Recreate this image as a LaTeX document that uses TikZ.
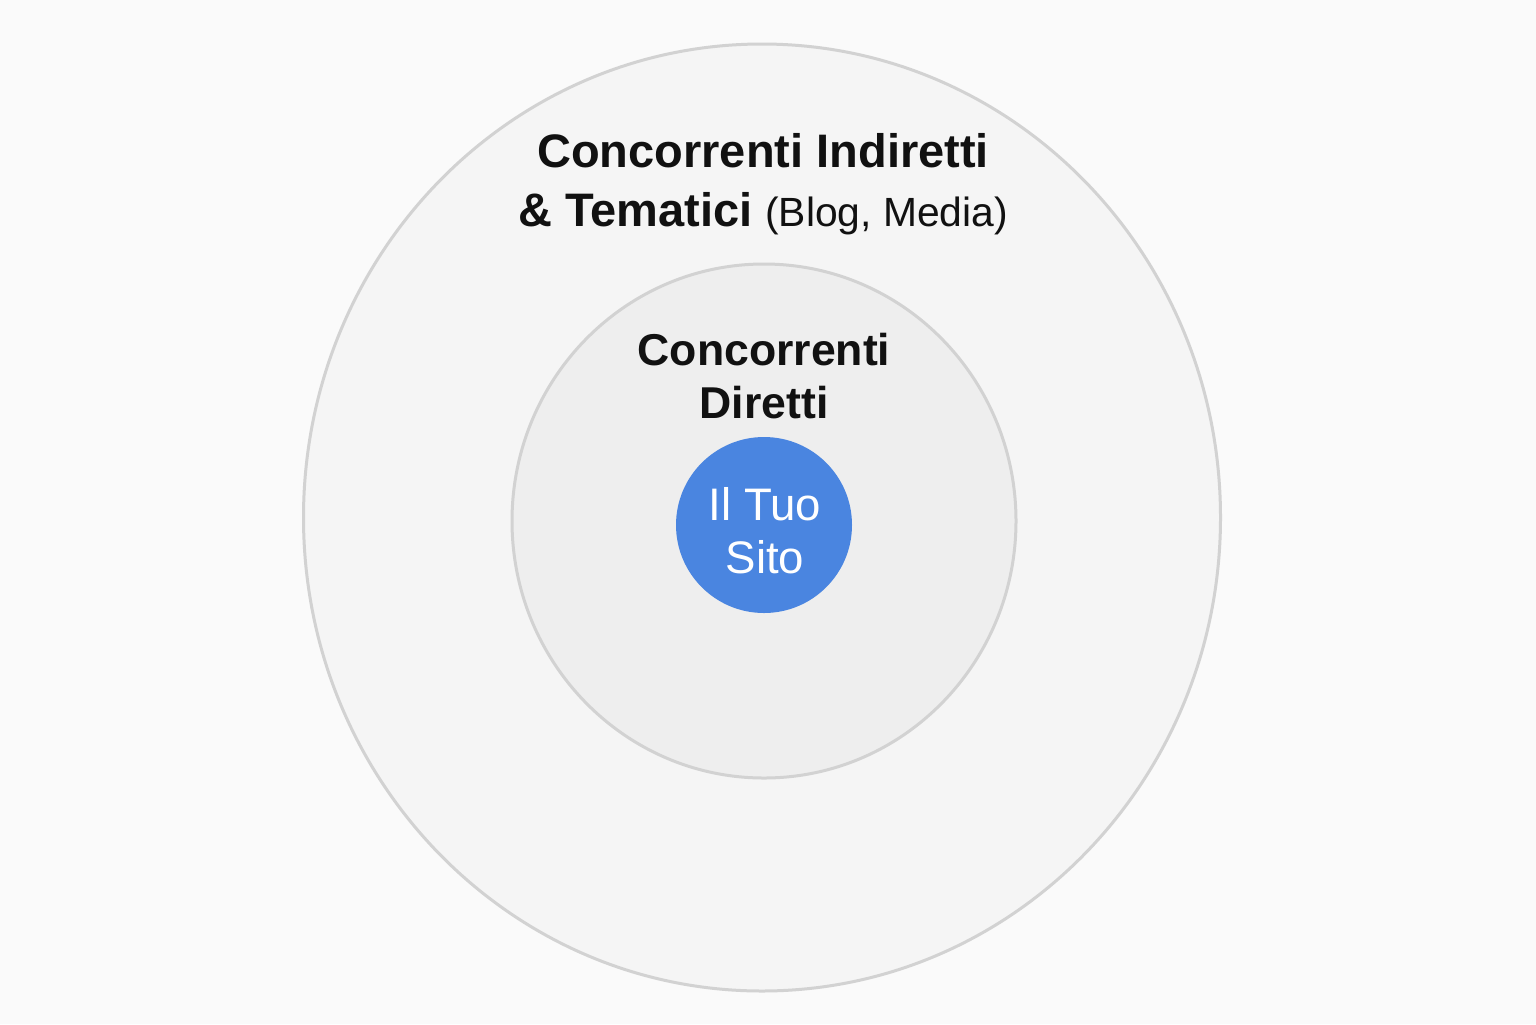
\documentclass[tikz,border=0pt]{standalone}
\usepackage{fontspec}
\setmainfont{Liberation Sans}
\usetikzlibrary{shapes.geometric}
\definecolor{bgcol}{RGB}{250,250,250}
\definecolor{outercol}{RGB}{245,245,245}
\definecolor{innercol}{RGB}{238,238,238}
\definecolor{ringcol}{RGB}{210,210,210}
\definecolor{sitecol}{RGB}{74,133,224}
\definecolor{inkcol}{RGB}{17,17,17}
\begin{document}
\begin{tikzpicture}[x=0.5pt, y=-0.5pt,
      ring/.style = {draw=ringcol, line width=1.5pt, ellipse, inner sep=0pt},
      lbl/.style = {text=inkcol, align=center, anchor=base, inner sep=0pt},
      site/.style = {circle, fill=sitecol, minimum size=88pt, inner sep=0pt,
                     text=white, align=center}]
    \useasboundingbox[fill=bgcol] (0,0) rectangle (1536,1024);

    % rings
    \node[ring, fill=outercol, minimum width=458.5pt, minimum height=473.5pt] (outer) at (762,517.5) {};
    \node[ring, fill=innercol, minimum width=252pt, minimum height=257pt] (inner) at (764,521) {};
    \node[site] (sito) at (764,525) {};

    % labels (anchored on the baseline of the last line)
    \node[lbl, font=\bfseries\fontsize{23.5}{29.5}\selectfont] (indiretti) at (763,226)
      {Concorrenti Indiretti\\ \& Tematici {\mdseries\fontsize{20.4}{29.5}\selectfont(Blog, Media)}};
    \node[lbl, font=\bfseries\fontsize{22.3}{26.5}\selectfont] (diretti) at (764,418)
      {Concorrenti\\ Diretti};
    \node[lbl, text=white, font=\fontsize{22.8}{26.5}\selectfont] (tuo) at (765,573)
      {Il Tuo\\ Sito};

  \end{tikzpicture}
\end{document}
